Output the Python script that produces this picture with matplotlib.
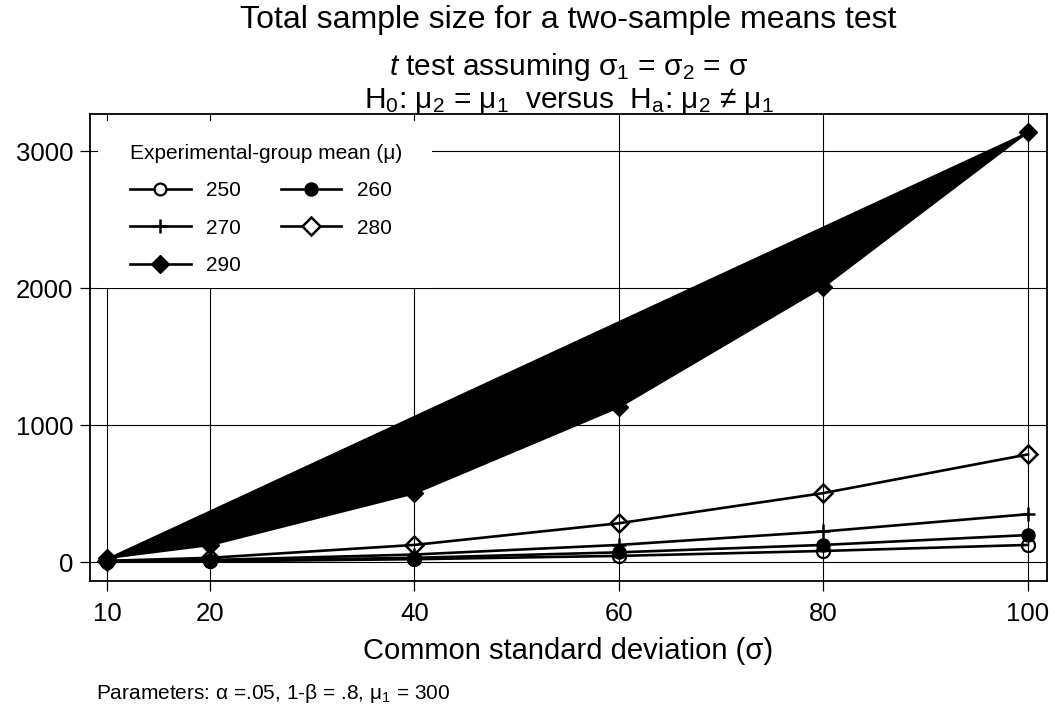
import matplotlib
matplotlib.use("Agg")
import matplotlib.pyplot as plt
from matplotlib.lines import Line2D
from matplotlib.patches import Rectangle

plt.rcParams['font.family'] = ['Liberation Sans', 'DejaVu Sans']
plt.rcParams['mathtext.fontset'] = 'custom'
plt.rcParams['mathtext.rm'] = 'Liberation Sans'
plt.rcParams['mathtext.it'] = 'Liberation Sans:italic'
plt.rcParams['mathtext.default'] = 'regular'

# ---- data ----
sigma = [10, 20, 40, 60, 80, 100]
n250 = [6, 8, 24, 48, 84, 128]
n260 = [6, 12, 34, 74, 128, 200]
n270 = [8, 18, 58, 128, 226, 352]
n280 = [12, 34, 128, 286, 506, 788]
n290 = [34, 128, 506, 1134, 2012, 3142]
xticks = [10, 20, 40, 60, 80, 100]
yticks = [0, 1000, 2000, 3000]

title = "Total sample size for a two-sample means test"
sub1 = r"$\mathit{t}$ test assuming σ$_1$ = σ$_2$ = σ"
sub2 = r"H$_0$: μ$_2$ = μ$_1$  versus  H$_a$: μ$_2$ ≠ μ$_1$"
xlabel = "Common standard deviation (σ)"
note = r"Parameters: α =.05, 1-β = .8, μ$_1$ = 300"
legend_title = "Experimental-group mean (μ)"

W, H = 1055, 705
fig = plt.figure(figsize=(W / 100, H / 100), dpi=100)
ax = fig.add_axes([90 / W, 1 - 581 / H, (1047 - 90) / W, (581 - 114) / H])

lw = 1.9
ms = 9.4
ax.plot(sigma, n250, color='black', lw=lw, marker='o', ms=ms, mfc='none', mec='black', mew=1.6, zorder=3)
ax.plot(sigma, n260, color='black', lw=lw, marker='o', ms=ms, mfc='black', mec='black', zorder=3)
ax.plot(sigma, n270, color='black', lw=lw, marker='+', ms=ms + 0.5, mew=1.8, zorder=3)
ax.plot(sigma, n280, color='black', lw=lw, marker='D', ms=9.5, mfc='none', mec='black', mew=1.8, zorder=3)
ax.fill(sigma, n290, color='black', lw=0, zorder=3)
ax.plot(sigma, n290, color='black', lw=lw, marker='D', ms=9.5, mfc='black', mec='black', zorder=3)

ax.set_xlim(8.29, 101.86)
ax.set_ylim(-135, 3270)
ax.set_xticks(xticks)
ax.set_yticks(yticks)
ax.grid(True, color='black', lw=0.8)
ax.set_axisbelow(True)
ax.tick_params(axis='both', direction='out', length=7.2, width=0.9, labelsize=18.5, color='black')
ax.tick_params(axis='y', pad=5)
ax.tick_params(axis='x', pad=8)
for s in ax.spines.values():
    s.set_linewidth(1.3)

# white legend region
ax.add_patch(Rectangle((0.0084, 0.627), 0.349, 0.358, transform=ax.transAxes,
                       facecolor='white', edgecolor='none', zorder=1.5))

h250 = Line2D([], [], color='black', lw=lw, marker='o', ms=8.5, mfc='white', mec='black', mew=1.6)
h260 = Line2D([], [], color='black', lw=lw, marker='o', ms=ms, mfc='black', mec='black')
h270 = Line2D([], [], color='black', lw=lw, marker='+', ms=ms + 0.5, mew=1.8)
h280 = Line2D([], [], color='black', lw=lw, marker='D', ms=9.0, mfc='white', mec='black', mew=1.8)
h290 = Line2D([], [], color='black', lw=lw, marker='D', ms=9.5, mfc='black', mec='black')
labels = ['250', '260', '270', '280', '290']
order = [0, 2, 4, 1, 3]
handles = [h250, h260, h270, h280, h290]
leg = ax.legend([handles[i] for i in order], [labels[i] for i in order],
                title=legend_title, ncol=2, loc='upper left',
                bbox_to_anchor=(0.042, 0.936), frameon=False, fontsize=15,
                title_fontsize=15, alignment='left', handlelength=2.9,
                handletextpad=0.75, columnspacing=1.9, labelspacing=0.88,
                borderpad=0, borderaxespad=0)
leg.set_zorder(4)

ax.set_xlabel(xlabel, fontsize=21, va='center')
ax.xaxis.set_label_coords(0.5, -0.15)

cx = (90 + 1047) / 2 / W
fig.text(cx, 1 - 28 / H, title, fontsize=23, ha='center', va='baseline')
fig.text(cx, 1 - 75 / H, sub1, fontsize=21.5, ha='center', va='baseline')
fig.text(cx, 1 - 108 / H, sub2, fontsize=21.5, ha='center', va='baseline')
fig.text(96 / W, 1 - 699 / H, note, fontsize=15, ha='left', va='baseline')

fig.savefig('out.png', dpi=100)
